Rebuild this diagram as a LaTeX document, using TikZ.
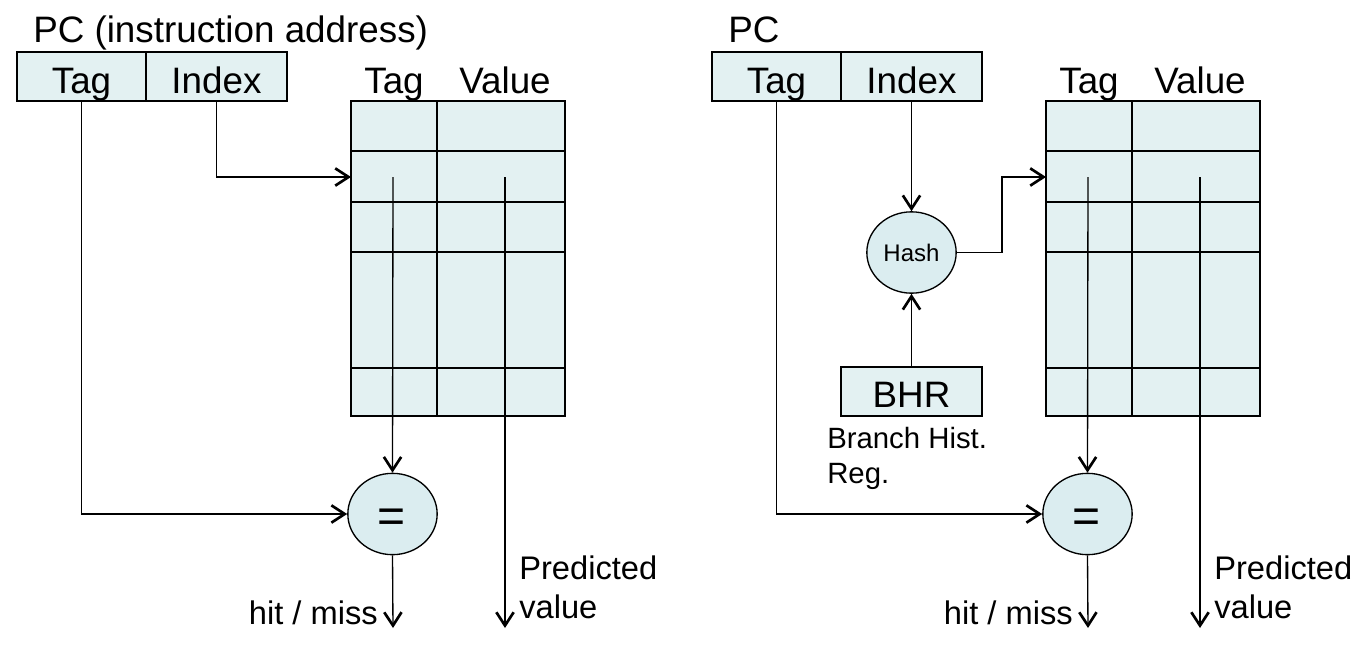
\documentclass[tikz,border=0pt]{standalone}
\usepackage{fontspec}
\setmainfont{Liberation Sans}
\usepackage{xcolor}
\usetikzlibrary{arrows.meta,shapes.geometric}

\definecolor{cellfill}{RGB}{227,241,242}
\definecolor{opfill}{RGB}{219,237,240}

\tikzset{
  field/.style={draw, fill=cellfill, line width=1pt, minimum height=36.75pt, inner sep=0pt},
  op/.style={draw, ellipse, fill=opfill, line width=1pt, minimum width=67pt, minimum height=61pt, inner sep=0pt},
  grid/.style={draw, fill=cellfill, line width=1.1pt},
  wire/.style={line width=1pt, -{Straight Barb[length=10pt,width=13pt,line width=2pt]}},
  bigtext/.style={inner sep=0pt, font=\fontsize{27.6}{30}\selectfont},
  labeltext/.style={inner sep=0pt, align=left, font=\fontsize{24.5}{29.25}\selectfont},
  eqsign/.style={font=\fontsize{36}{36}\selectfont},
}

\begin{document}
\begin{tikzpicture}[x=0.75pt,y=0.75pt,yscale=-1,xscale=1]
\useasboundingbox (0,0) rectangle (1365,647);

%%%%%%%% left: direct indexing %%%%%%%%
% Text Node
\node[bigtext, anchor=base west] (pctitle) at (33,42) {PC (instruction address)};
%Shape: PC fields
\node[field, minimum width=96.75pt] (pctag) at (81.5,76.5) {};
\node[field, minimum width=105.75pt] (pcidx) at (216.5,76.5) {};
\node[bigtext, anchor=base] (pctagtext) at (81.5,93) {Tag};
\node[bigtext, anchor=base] (pcidxtext) at (216.5,93) {Index};

%Shape: Table
\draw[grid] (351,101) rectangle (565,416);
\draw[line width=1.1pt] (437,101) -- (437,416) (351,151) -- (565,151) (351,202) -- (565,202) (351,252) -- (565,252) (351,368) -- (565,368);
\node[bigtext, anchor=base] (taghead) at (394,93) {Tag};
\node[bigtext, anchor=base] (valhead) at (505,93) {Value};
\coordinate (rowin) at (351,177);
\coordinate (tagout) at (393,177);
\coordinate (valout) at (505,177);

%Shape: Compare
\node[op] (eq) at (392.5,514) {};
\node[eqsign, inner sep=0pt, anchor=base] (eqtext) at (392,532) {=};
\coordinate (hitend) at (393,628);
\coordinate (valend) at (505,628);

% Text Node
\node[labeltext, anchor=base east] (hit) at (378,624) {hit / miss};
% Text Node
\node[labeltext, anchor=base west] (pred) at (519,618) {Predicted\\value};

% Connection
\draw[wire] (pcidx.south) |- (rowin);
\draw[wire] (pctag.south) |- (eq.west);
\draw[wire] (tagout) -- (eq.north);
\draw[wire] (eq.south) -- (hitend);
\draw[wire] (valout) -- (valend);

%%%%%%%% right: hashed with history %%%%%%%%
% Text Node
\node[bigtext, anchor=base west] (pctitleb) at (728,42) {PC};
%Shape: PC fields
\node[field, minimum width=96.75pt] (pctagb) at (776.5,76.5) {};
\node[field, minimum width=105.75pt] (pcidxb) at (911.5,76.5) {};
\node[bigtext, anchor=base] (pctagtextb) at (776.5,93) {Tag};
\node[bigtext, anchor=base] (pcidxtextb) at (911.5,93) {Index};

%Shape: Table
\draw[grid] (1046,101) rectangle (1260,416);
\draw[line width=1.1pt] (1132,101) -- (1132,416) (1046,151) -- (1260,151) (1046,202) -- (1260,202) (1046,252) -- (1260,252) (1046,368) -- (1260,368);
\node[bigtext, anchor=base] (tagheadb) at (1089,93) {Tag};
\node[bigtext, anchor=base] (valheadb) at (1200,93) {Value};
\coordinate (rowinb) at (1046,177);
\coordinate (tagoutb) at (1088,177);
\coordinate (valoutb) at (1200,177);

%Shape: Hash
\node[op, font=\fontsize{18}{18}\selectfont] (hash) at (911.5,252.5) {Hash};
%Shape: BHR
\node[field, minimum width=105.75pt] (bhr) at (911.5,391.5) {};
\node[bigtext, anchor=base] (bhrtext) at (911.5,407) {BHR};
% Text Node
\node[inner sep=0pt, align=left, anchor=base west, font=\fontsize{22}{26.25}\selectfont] (bhrnote) at (827,483) {Branch Hist.\\Reg.};

%Shape: Compare
\node[op] (eqb) at (1087.5,514) {};
\node[eqsign, inner sep=0pt, anchor=base] (eqtextb) at (1087,532) {=};
\coordinate (hitendb) at (1088,628);
\coordinate (valendb) at (1200,628);

% Text Node
\node[labeltext, anchor=base east] (hitb) at (1073,624) {hit / miss};
% Text Node
\node[labeltext, anchor=base west] (predb) at (1214,618) {Predicted\\value};

% Connection
\draw[wire] (pcidxb.south) -- (hash.north);
\draw[wire] (bhr.north) -- (hash.south);
\draw[wire] (hash.east) -- ++(45,0) |- (rowinb);
\draw[wire] (pctagb.south) |- (eqb.west);
\draw[wire] (tagoutb) -- (eqb.north);
\draw[wire] (eqb.south) -- (hitendb);
\draw[wire] (valoutb) -- (valendb);

\end{tikzpicture}
\end{document}
